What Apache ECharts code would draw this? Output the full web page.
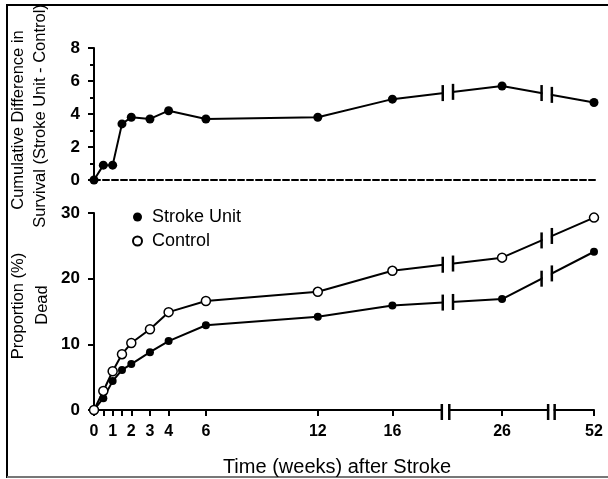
<!DOCTYPE html>
<html lang="en">
<head>
    <meta charset="UTF-8">
    <title>Stroke unit vs control</title>
    <script src="https://cdn.jsdelivr.net/npm/echarts@6/dist/echarts.min.js"></script>
    <style>
        html, body { margin: 0; padding: 0; background: #fff; }
        #chart { width: 608px; height: 479px; }
    </style>
</head>
<body>
<div id="chart"></div>
<script type="text/javascript">
    // data
    var weeks = [0, 0.5, 1, 1.5, 2, 3, 4, 6, 12, 16, 26, 52];
    var difference = [0, 0.9, 0.9, 3.4, 3.8, 3.7, 4.2, 3.7, 3.8, 4.9, 5.7, 4.7];
    var strokeUnit = [0, 1.8, 4.4, 6.1, 7.0, 8.8, 10.5, 12.9, 14.2, 15.9, 16.9, 24.1];
    var control = [0, 2.9, 5.9, 8.5, 10.2, 12.3, 14.9, 16.6, 18.0, 21.2, 23.2, 29.3];
    var tickWeeks = [0, 0.5, 1, 1.5, 2, 3, 4, 6, 12, 16, 26, 52];
    var labelWeeks = [0, 1, 2, 3, 4, 6, 12, 16, 26, 52];

    // broken time axis: weeks -> display units
    var anchorWeeks = [0, 16, 26, 52];
    var anchorPos = [0, 16, 21.88, 26.81];
    var U_MAX = 26.81;
    var lineBreaks = [[18.7, 19.25], [24.0, 24.55]];
    var axisBreaks = [[18.65, 19.05], [24.35, 24.7]];

    function pos(w) {
        for (var i = 1; i < anchorWeeks.length; i++) {
            if (w <= anchorWeeks[i]) {
                var f = (w - anchorWeeks[i - 1]) / (anchorWeeks[i] - anchorWeeks[i - 1]);
                return anchorPos[i - 1] + f * (anchorPos[i] - anchorPos[i - 1]);
            }
        }
        return anchorPos[anchorPos.length - 1];
    }

    function pairs(vals) {
        return weeks.map(function (w, i) { return [pos(w), vals[i]]; });
    }

    // y of a drawn segment at display position u (only for the break marks)
    function yAt(u, vals) {
        for (var i = 1; i < weeks.length; i++) {
            var x0 = pos(weeks[i - 1]), x1 = pos(weeks[i]);
            if (u <= x1) {
                return vals[i - 1] + (u - x0) / (x1 - x0) * (vals[i] - vals[i - 1]);
            }
        }
        return vals[vals.length - 1];
    }

    function breakData(breaks, seriesList) {
        var out = [];
        breaks.forEach(function (b) {
            seriesList.forEach(function (vals) {
                out.push([b[0], yAt(b[0], vals), b[1], yAt(b[1], vals)]);
            });
        });
        return out;
    }

    function breakRender(up, down) {
        return function (params, api) {
            var a = api.coord([api.value(0), api.value(1)]);
            var b = api.coord([api.value(2), api.value(3)]);
            return {
                type: 'group',
                children: [
                    {type: 'polygon', shape: {points: [[a[0] + 1, a[1] - 4], [b[0] - 1, b[1] - 4], [b[0] - 1, b[1] + 4], [a[0] + 1, a[1] + 4]]}, style: {fill: '#fff'}},
                    {type: 'line', shape: {x1: a[0], y1: a[1] - up, x2: a[0], y2: a[1] + down}, style: {stroke: '#000', lineWidth: 2.5}},
                    {type: 'line', shape: {x1: b[0], y1: b[1] - up, x2: b[0], y2: b[1] + down}, style: {stroke: '#000', lineWidth: 2.5}}
                ]
            };
        };
    }

    function vTitle(text, x, y) {
        return {
            type: 'text', x: x, y: y, rotation: Math.PI / 2,
            style: {text: text, fill: '#000', align: 'center', verticalAlign: 'middle',
                font: '16.5px "Liberation Sans", Arial, sans-serif'}
        };
    }

    var zeros = weeks.map(function () { return 0; });
    var FONT = '"Liberation Sans", Arial, Helvetica, sans-serif';

    var myChart = echarts.init(document.getElementById('chart'));

    var option = {
        animation: false,
        textStyle: {fontFamily: FONT, color: '#000'},
        grid: [
            {left: 94, top: 48, width: 503, height: 132, outerBoundsMode: 'none', containLabel: false},
            {left: 94, top: 213, width: 500, height: 197, outerBoundsMode: 'none', containLabel: false}
        ],
        legend: {
            data: ['Stroke Unit', 'Control'],
            orient: 'vertical',
            left: 127,
            top: 203,
            icon: 'circle',
            itemWidth: 9,
            itemHeight: 9,
            itemGap: 6,
            textStyle: {fontSize: 18, color: '#000', fontFamily: FONT, padding: [0, 0, 0, 5]}
        },
        xAxis: [
            {
                gridIndex: 0, type: 'value', min: 0, max: U_MAX * 503 / 500,
                axisLine: {show: true, lineStyle: {color: '#000', width: 2, type: [6, 3]}},
                axisTick: {show: false}, axisLabel: {show: false}, splitLine: {show: false}
            },
            {
                gridIndex: 1, type: 'value', min: 0, max: U_MAX,
                axisLine: {show: true, lineStyle: {color: '#000', width: 2}},
                axisTick: {show: true, length: 6, lineStyle: {color: '#000', width: 2},
                    customValues: tickWeeks.map(pos)},
                axisLabel: {
                    customValues: labelWeeks.map(pos),
                    formatter: function (v) {
                        for (var i = 0; i < labelWeeks.length; i++) {
                            if (Math.abs(pos(labelWeeks[i]) - v) < 1e-6) return String(labelWeeks[i]);
                        }
                        return '';
                    },
                    color: '#000', fontSize: 16, fontWeight: 'bold', margin: 14, fontFamily: FONT
                },
                splitLine: {show: false},
                name: 'Time (weeks) after Stroke',
                nameLocation: 'middle',
                nameGap: 47,
                nameTextStyle: {fontSize: 20, color: '#000', fontFamily: FONT, padding: [0, 14, 0, 0]}
            }
        ],
        yAxis: [
            {
                gridIndex: 0, type: 'value', min: 0, max: 8, interval: 2,
                axisLine: {show: true, lineStyle: {color: '#000', width: 2}},
                axisTick: {show: true, length: 6, lineStyle: {color: '#000', width: 2}},
                minorTick: {show: true, splitNumber: 2, length: 4, lineStyle: {color: '#000', width: 2}},
                axisLabel: {color: '#000', fontSize: 17, fontWeight: 'bold', margin: 14, fontFamily: FONT},
                splitLine: {show: false}
            },
            {
                gridIndex: 1, type: 'value', min: 0, max: 30, interval: 10,
                axisLine: {show: true, lineStyle: {color: '#000', width: 2}},
                axisTick: {show: true, length: 6, lineStyle: {color: '#000', width: 2}},
                axisLabel: {color: '#000', fontSize: 17, fontWeight: 'bold', margin: 14, fontFamily: FONT},
                splitLine: {show: false}
            }
        ],
        series: [
            {
                name: 'Difference', type: 'line', xAxisIndex: 0, yAxisIndex: 0,
                data: pairs(difference),
                symbol: 'circle', symbolSize: 9,
                itemStyle: {color: '#000'},
                lineStyle: {color: '#000', width: 2}
            },
            {
                name: 'Stroke Unit', type: 'line', xAxisIndex: 1, yAxisIndex: 1,
                data: pairs(strokeUnit),
                symbol: 'circle', symbolSize: 8,
                itemStyle: {color: '#000'},
                lineStyle: {color: '#000', width: 2}
            },
            {
                name: 'Control', type: 'line', xAxisIndex: 1, yAxisIndex: 1,
                data: pairs(control),
                symbol: 'circle', symbolSize: 9,
                itemStyle: {color: '#fff', borderColor: '#000', borderWidth: 1.5},
                lineStyle: {color: '#000', width: 2}
            },
            {
                type: 'custom', xAxisIndex: 0, yAxisIndex: 0, z: 10, silent: true,
                renderItem: breakRender(8, 8),
                data: breakData(lineBreaks, [difference])
            },
            {
                type: 'custom', xAxisIndex: 1, yAxisIndex: 1, z: 10, silent: true,
                renderItem: breakRender(8, 8),
                data: breakData(lineBreaks, [strokeUnit, control])
            },
            {
                type: 'custom', xAxisIndex: 1, yAxisIndex: 1, z: 10, silent: true,
                renderItem: breakRender(6, 10),
                data: breakData(axisBreaks, [zeros])
            }
        ],
        graphic: [
            vTitle('Cumulative Difference in', 18, 120),
            vTitle('Survival (Stroke Unit - Control)', 40, 116),
            vTitle('Proportion (%)', 18, 306),
            vTitle('Dead', 42, 305),
            {type: 'line', shape: {x1: 7, y1: 4, x2: 7, y2: 478}, style: {stroke: '#000', lineWidth: 2}},
            {type: 'line', shape: {x1: 7, y1: 5, x2: 608, y2: 5}, style: {stroke: '#000', lineWidth: 2}},
            {type: 'line', shape: {x1: 7, y1: 477, x2: 608, y2: 477}, style: {stroke: '#777', lineWidth: 2}}
        ]
    };

    myChart.setOption(option);
</script>
</body>
</html>
